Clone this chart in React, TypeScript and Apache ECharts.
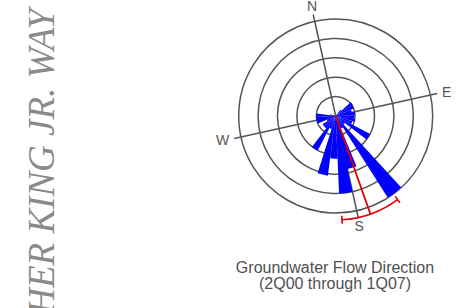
import React, { useEffect, useRef } from "react";
import * as echarts from "echarts";

// Rose diagram: 10-degree direction bins (compass bearing of bin start) and counts
const binStarts = [0, 10, 20, 30, 40, 50, 60, 70, 80, 90, 100, 110, 120, 130, 140, 150, 160, 170,
  180, 190, 200, 210, 220, 230, 240, 250, 260, 270, 280, 290, 300, 310, 320, 330, 340, 350];
const binCounts = [0, 0, 0, 0, 0, 0.4, 1.05, 1.0, 0.85, 1.0, 0.95, 1.0, 0.9, 2.0, 0.6, 5.0, 0.7, 2.8,
  4.0, 2.2, 3.1, 0.7, 2.0, 0.8, 0.8, 0.5, 1.0, 1.0, 1.0, 0.3, 0, 0, 0, 0, 0, 0];
const ringTicks = [0, 1, 2, 3, 4, 5];
const compassLabels: Record<number, string> = { 0: "N", 90: "E", 180: "S", 270: "W" };
const meanDirection = 173;
const confidenceLow = 156;
const confidenceHigh = 189;
const titleLines = ["Groundwater Flow Direction", "(2Q00 through 1Q07)"];
const streetLabel = "MARTIN LUTHER KING JR. WAY";

const ROTATION = 12.5; // compass rotated counter-clockwise on the page
const CENTER: [number, number] = [335.7, 116];

export default function App() {
  const ref = useRef<HTMLDivElement>(null);
  useEffect(() => {
    if (!ref.current) return;
    const chart = echarts.init(ref.current, undefined, { renderer: "svg" });
    const gray = "#555555";
    const option: any = {
      animation: false,
      backgroundColor: "#ffffff",
      polar: [
        { center: CENTER, radius: 97 },
        { center: CENTER, radius: 104 },
      ],
      angleAxis: [
        {
          polarIndex: 0,
          type: "category",
          data: binStarts.map(String),
          startAngle: 90 + ROTATION,
          clockwise: true,
          boundaryGap: true,
          axisLine: { show: false },
          axisTick: { show: false },
          axisLabel: { show: false },
          splitLine: { show: false },
        },
        {
          polarIndex: 1,
          type: "value",
          min: 0,
          max: 360,
          interval: 90,
          startAngle: 90 + ROTATION,
          clockwise: true,
          axisLine: { show: false },
          axisTick: { show: false },
          splitLine: { show: true, lineStyle: { color: gray, width: 1.5 } },
          axisLabel: {
            show: true,
            margin: 5,
            color: gray,
            fontSize: 14,
            lineHeight: 8,
            fontFamily: "Liberation Sans, Arial, sans-serif",
            formatter: (v: number) => compassLabels[v] ?? "",
          },
        },
      ],
      radiusAxis: [
        {
          polarIndex: 0,
          type: "value",
          min: ringTicks[0],
          max: ringTicks[ringTicks.length - 1],
          interval: 1,
          axisLine: { show: false },
          axisTick: { show: false },
          axisLabel: { show: false },
          splitLine: { show: true, lineStyle: { color: gray, width: 1.5 } },
        },
        {
          polarIndex: 1,
          type: "value",
          min: 0,
          max: 1,
          show: false,
          splitLine: { show: false },
        },
      ],
      series: [
        {
          type: "bar",
          coordinateSystem: "polar",
          polarIndex: 0,
          data: binCounts,
          barCategoryGap: "0%",
          itemStyle: { color: "#0000ff" },
          z: 3,
        },
        {
          type: "custom",
          coordinateSystem: "polar",
          polarIndex: 1,
          data: [[1, meanDirection, confidenceLow, confidenceHigh]],
          z: 5,
          silent: true,
          renderItem: (params: any, api: any) => {
            const cs = params.coordSys;
            const cx = cs.cx;
            const cy = cs.cy;
            const r = cs.r;
            const mean = api.coord([api.value(0), api.value(1)]);
            const lo = api.coord([api.value(0), api.value(2)]);
            const hi = api.coord([api.value(0), api.value(3)]);
            const ang = (p: number[]) => Math.atan2(p[1] - cy, p[0] - cx);
            const aLo = ang(lo);
            const aHi = ang(hi);
            const tick = (a: number) => ({
              type: "line",
              shape: {
                x1: cx + (r - 4) * Math.cos(a),
                y1: cy + (r - 4) * Math.sin(a),
                x2: cx + (r + 4) * Math.cos(a),
                y2: cy + (r + 4) * Math.sin(a),
              },
              style: { stroke: "#e00000", lineWidth: 1.6 },
            });
            return {
              type: "group",
              children: [
                {
                  type: "line",
                  shape: { x1: cx, y1: cy, x2: mean[0], y2: mean[1] },
                  style: { stroke: "#e00000", lineWidth: 1.8 },
                },
                {
                  type: "arc",
                  shape: { cx, cy, r, startAngle: Math.min(aLo, aHi), endAngle: Math.max(aLo, aHi), clockwise: true },
                  style: { stroke: "#e00000", lineWidth: 1.6, fill: "none" },
                },
                tick(aLo),
                tick(aHi),
              ],
            };
          },
        },
      ],
      graphic: [
        {
          type: "text",
          x: 335,
          y: 259.5,
          style: {
            text: titleLines.join("\n"),
            textAlign: "center",
            textVerticalAlign: "top",
            fontSize: 16,
            lineHeight: 16,
            fill: "#505050",
            fontFamily: "Liberation Sans, Arial, sans-serif",
          },
        },
        {
          type: "text",
          x: 41,
          y: 9,
          rotation: Math.PI / 2,
          style: {
            text: streetLabel,
            textAlign: "right",
            textVerticalAlign: "middle",
            fontSize: 37,
            fontStyle: "italic",
            fill: "#8a8a8a",
            fontFamily: "Liberation Serif, Times New Roman, serif",
          },
        },
      ],
    };
    chart.setOption(option);
    return () => chart.dispose();
  }, []);
  return (
    <div
      ref={ref}
      style={{ position: "fixed", left: 0, top: 0, width: 457, height: 308 }}
    />
  );
}
